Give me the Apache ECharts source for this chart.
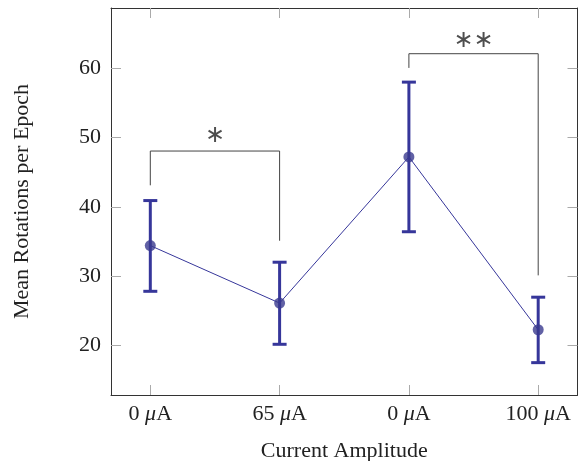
<!DOCTYPE html>
<html><head><meta charset="utf-8">
<script src="https://cdn.jsdelivr.net/npm/echarts@6/dist/echarts.min.js"></script>
<style>html,body{margin:0;padding:0;background:#fff}#c{width:580px;height:461px}</style>
</head><body><div id="c"></div>
<script>
const categories = ['0', '65', '0', '100'];
const means = [34.4, 26.1, 47.2, 22.25];
const errLow = [27.8, 20.15, 36.4, 17.5];
const errHigh = [40.9, 32.0, 58.0, 26.95];
const yTicks = [20, 30, 40, 50, 60];
// significance brackets: [fromIndex, toIndex, leftFoot, top, rightFoot]
const bracket1 = [0, 1, 43.1, 48.05, 35.1];
const bracket2 = [2, 3, 60.05, 62.1, 30.1];
const sigLabels = ['∗', '∗∗'];
const sigLabelY = [50.2, 64.0];

const blue = '#36369a';
const font = '"Liberation Serif", "DejaVu Serif", serif';
const fs = 22;
const xIdx = categories.map((_, i) => i);

function bracketData(b) {
  return [[b[0], b[2]], [b[0], b[3]], [b[1], b[3]], [b[1], b[4]]];
}

const chart = echarts.init(document.getElementById('c'), null, {renderer: 'canvas'});
const axisLineStyle = {color: '#333', width: 1};
const tickStyle = {color: '#aaa', width: 1};
chart.setOption({
  animation: false,
  grid: {left: 111, top: 8, right: 2.5, bottom: 66, containLabel: false, outerBoundsMode: 'none'},
  xAxis: [{
    type: 'value', min: -0.304, max: 3.304, position: 'bottom',
    splitLine: {show: false},
    axisLine: {onZero: false, lineStyle: axisLineStyle},
    axisTick: {inside: true, length: 10, lineStyle: tickStyle, customValues: xIdx},
    axisLabel: {
      customValues: xIdx, margin: 8, color: '#222', fontFamily: font, fontSize: fs,
      formatter: v => '{n|' + categories[Math.round(v)] + ' }{i|μ}{n|A}',
      rich: {n: {fontFamily: font, fontSize: fs, color: '#222'},
             i: {fontFamily: font, fontSize: fs, fontStyle: 'italic', color: '#222'}}
    },
    name: 'Current Amplitude', nameLocation: 'middle', nameGap: 45,
    nameTextStyle: {fontFamily: font, fontSize: fs, color: '#222'}
  }, {
    type: 'value', min: -0.304, max: 3.304, position: 'top',
    splitLine: {show: false},
    axisLine: {onZero: false, lineStyle: axisLineStyle},
    axisTick: {inside: true, length: 10, lineStyle: tickStyle, customValues: xIdx},
    axisLabel: {show: false}
  }],
  yAxis: [{
    type: 'value', min: 12.83, max: 68.7, position: 'left',
    splitLine: {show: false},
    axisLine: {show: true, onZero: false, lineStyle: axisLineStyle},
    axisTick: {show: true, inside: true, length: 10, lineStyle: tickStyle, customValues: yTicks},
    axisLabel: {customValues: yTicks, margin: 10, color: '#222', fontFamily: font, fontSize: fs},
    name: 'Mean Rotations per Epoch', nameLocation: 'middle', nameGap: 78, nameRotate: 90,
    nameTextStyle: {fontFamily: font, fontSize: fs, color: '#222'}
  }, {
    type: 'value', min: 12.83, max: 68.7, position: 'right',
    splitLine: {show: false},
    axisLine: {show: true, onZero: false, lineStyle: axisLineStyle},
    axisTick: {show: true, inside: true, length: 10, lineStyle: tickStyle, customValues: yTicks},
    axisLabel: {show: false}
  }],
  series: [
    {
      type: 'line', data: bracketData(bracket1), symbol: 'none', silent: true,
      lineStyle: {color: '#444', width: 1}, z: 1
    },
    {
      type: 'line', data: bracketData(bracket2), symbol: 'none', silent: true,
      lineStyle: {color: '#444', width: 1}, z: 1
    },
    {
      type: 'scatter', symbolSize: 0, silent: true,
      data: [[(bracket1[0] + bracket1[1]) / 2, sigLabelY[0]], [(bracket2[0] + bracket2[1]) / 2, sigLabelY[1]]],
      label: {show: true, position: 'inside', fontFamily: '"DejaVu Sans", sans-serif', fontSize: 24, color: '#222',
        formatter: p => sigLabels[p.dataIndex]}
    },
    {
      type: 'line', data: means.map((m, i) => [i, m]), symbol: 'none',
      lineStyle: {color: blue, width: 1}, z: 2
    },
    {
      type: 'custom', z: 3,
      data: means.map((m, i) => [i, errLow[i], errHigh[i]]),
      renderItem: (params, api) => {
        const x = api.value(0);
        const hi = api.coord([x, api.value(2)]);
        const lo = api.coord([x, api.value(1)]);
        const w = 7;
        const st = {stroke: blue, lineWidth: 3};
        return {type: 'group', children: [
          {type: 'line', shape: {x1: hi[0], y1: hi[1], x2: lo[0], y2: lo[1]}, style: st},
          {type: 'line', shape: {x1: hi[0] - w, y1: hi[1], x2: hi[0] + w, y2: hi[1]}, style: st},
          {type: 'line', shape: {x1: lo[0] - w, y1: lo[1], x2: lo[0] + w, y2: lo[1]}, style: st}
        ]};
      }
    },
    {
      type: 'scatter', data: means.map((m, i) => [i, m]), symbol: 'circle', symbolSize: 11,
      itemStyle: {color: '#3a3a8e'}, z: 4
    }
  ]
});
</script></body></html>
